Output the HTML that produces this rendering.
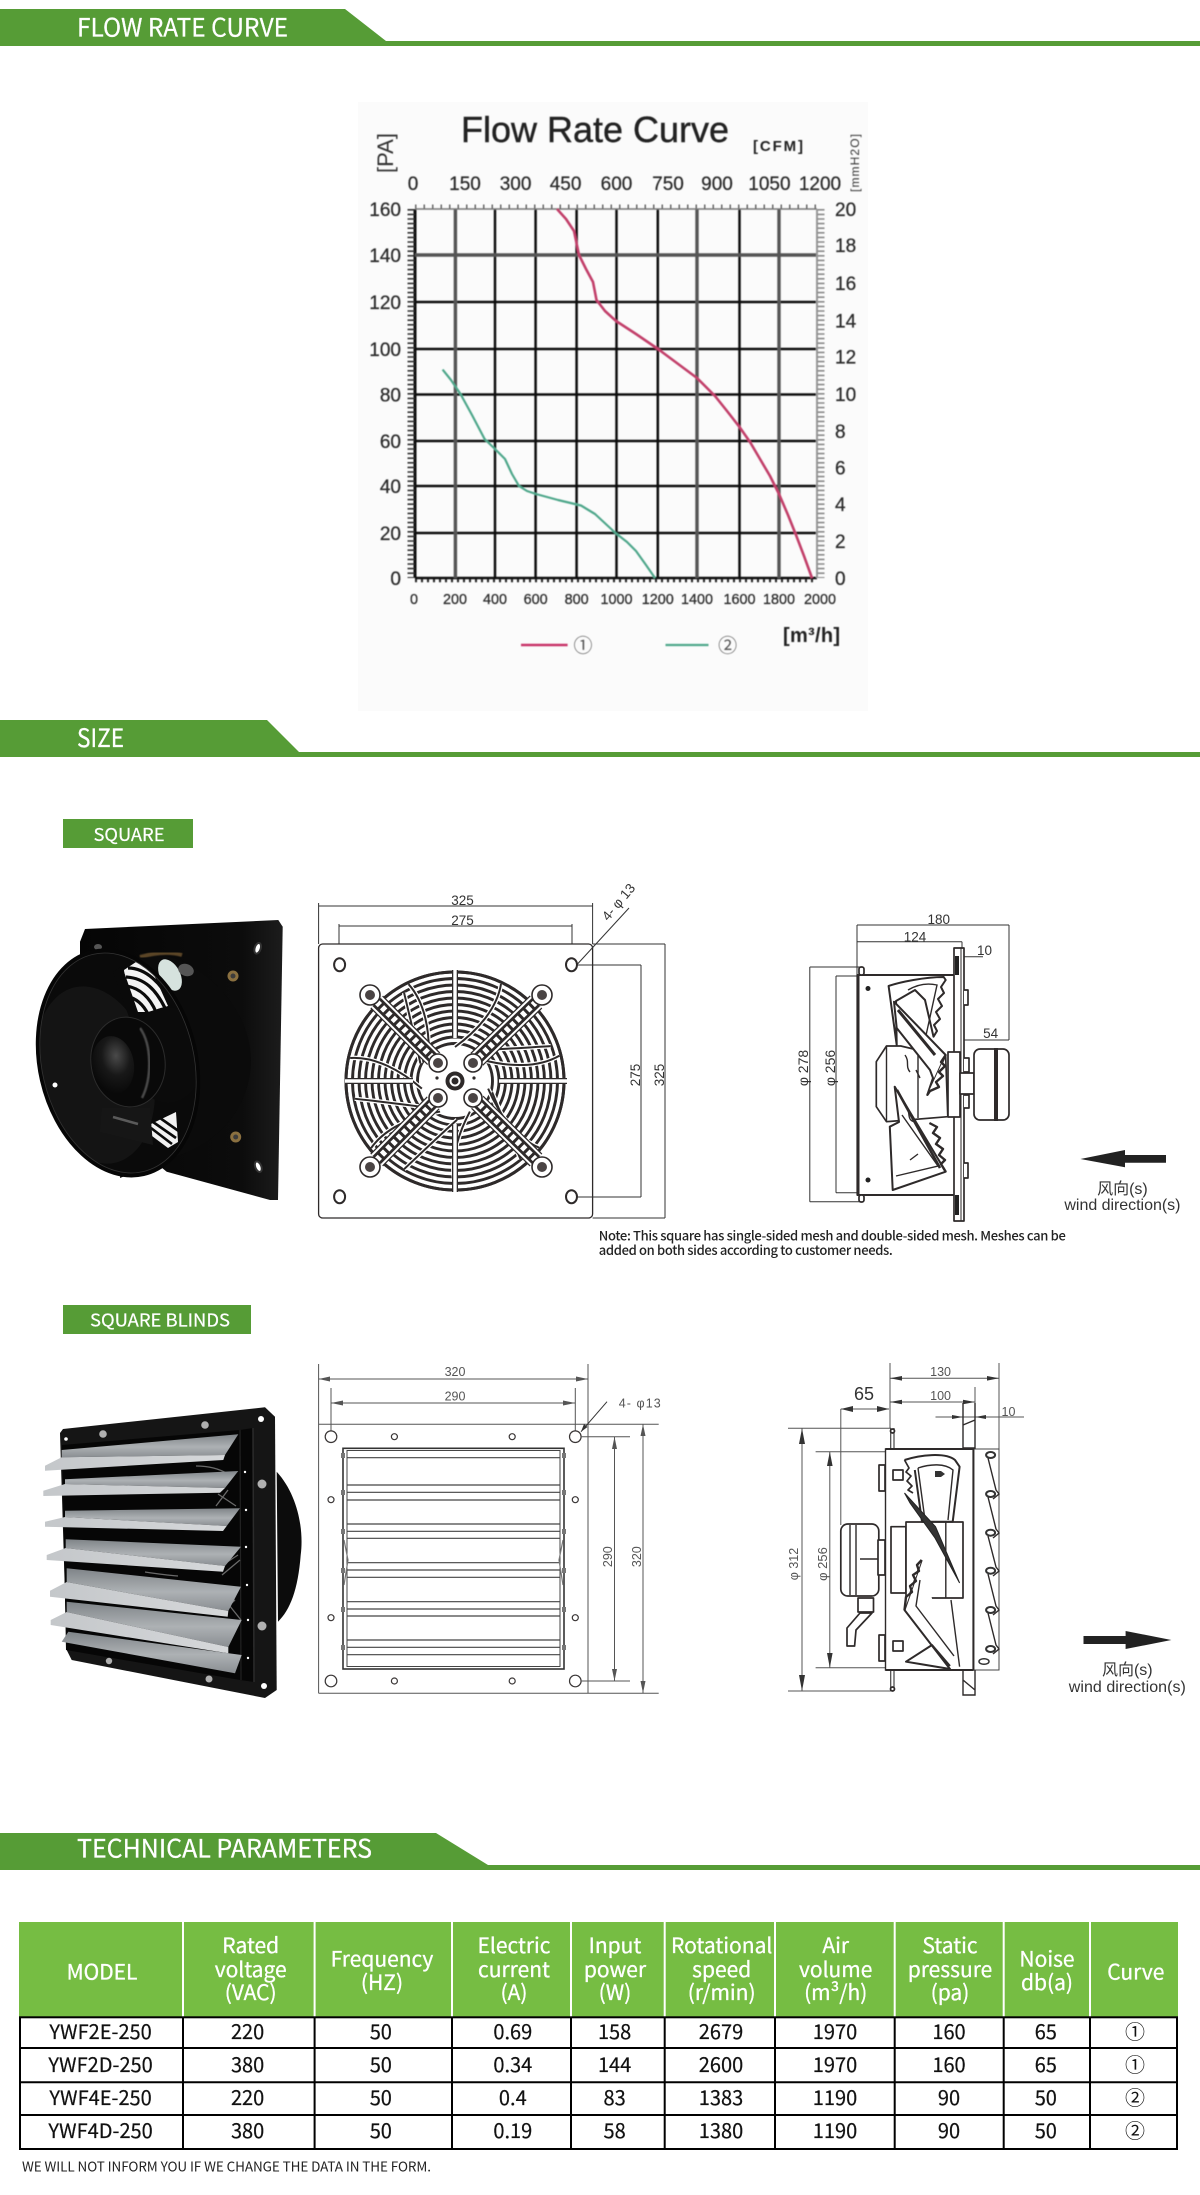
<!DOCTYPE html>
<html lang="en">
<head>
<meta charset="utf-8">
<title>Flow Rate Curve - Size - Technical Parameters</title>
<style>
html,body{margin:0;padding:0;background:#fff}
svg{display:block}
.cjk{font-family:"Liberation Sans","Noto Sans CJK SC",sans-serif}
.n{font-family:"Noto Sans CJK SC","Liberation Sans",sans-serif}
.ls{font-family:"Liberation Sans","Noto Sans CJK SC",sans-serif}
.banner{fill:#fff;stroke:#fff;stroke-width:.25;font-size:25px}
.lab{fill:#fff;stroke:#fff;stroke-width:.2;font-size:18px;text-anchor:middle}
.th{fill:#fff;stroke:#fff;stroke-width:.3;font-size:21px;text-anchor:middle}
.td{fill:#111;stroke:#111;stroke-width:.2;font-size:20px;text-anchor:middle}
.ch{fill:#2a2a2a;stroke:#2a2a2a;stroke-width:.25;font-size:19px}
.cb{fill:#2a2a2a;stroke:#2a2a2a;stroke-width:.25;font-size:14.4px;text-anchor:middle}
.dim{fill:#333;font-size:13.5px;text-anchor:middle}
.dim2{fill:#555;font-size:12.5px;text-anchor:middle}
.dl{stroke:#333;stroke-width:1;fill:none}
.dl2{stroke:#555;stroke-width:1;fill:none}
.dw{fill:#fff;stroke:#2e2a2a;stroke-width:1.7;stroke-linejoin:round}
.dn{fill:none;stroke:#2e2a2a;stroke-width:1.4}
.wind{fill:#333;font-size:16px;text-anchor:middle}
</style>
</head>
<body>
<svg xmlns="http://www.w3.org/2000/svg" width="1200" height="2195" viewBox="0 0 1200 2195">
<defs>
<filter id="bl" x="-5%" y="-5%" width="110%" height="110%"><feGaussianBlur stdDeviation="0.55"/></filter>
<filter id="bs" x="-20%" y="-20%" width="140%" height="140%"><feGaussianBlur stdDeviation="1.6"/></filter>
<linearGradient id="sl" x1="0" y1="0" x2="0" y2="1"><stop offset="0" stop-color="#7f8488"/><stop offset=".55" stop-color="#adb1b4"/><stop offset="1" stop-color="#8a8e92"/></linearGradient>
<linearGradient id="lip" x1="0" y1="0" x2="1" y2="0"><stop offset="0" stop-color="#c4c7ca"/><stop offset="1" stop-color="#d6d8da"/></linearGradient>
<radialGradient id="mot" cx=".6" cy=".35" r=".75"><stop offset="0" stop-color="#4a4a4a"/><stop offset=".45" stop-color="#181818"/><stop offset="1" stop-color="#050505"/></radialGradient>
<linearGradient id="pl" x1="0" y1="0" x2="1" y2="0"><stop offset="0" stop-color="#050505"/><stop offset=".8" stop-color="#0c0c0c"/><stop offset="1" stop-color="#1c1c1c"/></linearGradient>
<clipPath id="ri"><ellipse cx="118" cy="1063" rx="77" ry="113" transform="rotate(-13 118 1063)"/></clipPath>
<path id="blade" d="M0 -34C22 -50 42 -72 46 -97"/>
<path id="blade2" d="M8 -38C28 -48 46 -58 72 -72"/>
</defs>

<!-- BANNERS -->
<polygon points="0,9 345,9 386,41 1200,41 1200,46 0,46" fill="#569c36"/>
<text class="n banner" x="77" y="36.7" textLength="211" lengthAdjust="spacingAndGlyphs">FLOW RATE CURVE</text>
<polygon points="0,720 267,720 299,752 1200,752 1200,757 0,757" fill="#569c36"/>
<text class="n banner" x="77" y="747" textLength="47" lengthAdjust="spacingAndGlyphs">SIZE</text>
<polygon points="0,1833 436,1833 488,1865 1200,1865 1200,1870 0,1870" fill="#569c36"/>
<text class="n banner" x="77" y="1857.7" textLength="295" lengthAdjust="spacingAndGlyphs">TECHNICAL PARAMETERS</text>

<!-- CHART -->
<rect x="358" y="102" width="510" height="609" fill="#fbfbfb"/>
<g filter="url(#bl)">
<g stroke="#111" stroke-width="2.5" fill="none">
<path d="M535.6 209V578M495 209V578M576.6 209V578M616.5 209V578M657.8 209V578M739.5 209V578"/>
<path d="M415 209V578" stroke-width="3"/>
<path d="M415 302H817M415 349H817M415 441H817M415 486H817M415 533H817M415 394.5H817M415 578H817"/>
</g>
<g stroke="#555" stroke-width="3.4" fill="none">
<path d="M455.4 209V578M697 209V578M779 209V578"/>
<path d="M415 255H817"/>
</g>
<path d="M415 209H817" stroke="#777" stroke-width="1.5"/>
<path d="M817 209V578" stroke="#999" stroke-width="2"/>
<path d="M411 209V578" stroke="#333" stroke-width="7" stroke-dasharray="1.6 3"/>
<path d="M821 209V578" stroke="#888" stroke-width="7" stroke-dasharray="1.6 3"/>
<path d="M415 206.5H817" stroke="#666" stroke-width="4" stroke-dasharray="1.5 7"/>
<path d="M415 580.5H817" stroke="#222" stroke-width="3.5" stroke-dasharray="2 4"/>
<polyline points="557,209 566,219 574,231 579,255 586,269 593,282 596.5,300 605,311 615.5,320.6 636,334 658,349 697,378 715,396 727,411 739.5,427 750,442 760,459 770,476 779,494 788,515 796,535 804,556 812,578" fill="none" stroke="#c2416b" stroke-width="2.6" stroke-linejoin="round"/>
<polyline points="442.6,369.6 451,380 460.5,394 472,415 484.6,439 495,449 505,459 512,474 519,486 527,491 536,494 558,500 581,505.5 595,514 615.5,533 627,542 636,551 646,565 655,578" fill="none" stroke="#4fa78b" stroke-width="2.2" stroke-linejoin="round"/>

<text class="ls" x="461" y="142" font-size="36" fill="#222" stroke="#222" stroke-width=".4" textLength="268">Flow Rate Curve</text>
<text class="ls" x="0" y="0" font-size="22" fill="#333" text-anchor="middle" transform="translate(393,153) rotate(-90)">[PA]</text>
<text class="ls" x="753" y="151" font-size="15" font-weight="bold" fill="#222" textLength="50">[CFM]</text>
<text class="ls" x="0" y="0" font-size="12" fill="#333" text-anchor="middle" transform="translate(859,163) rotate(-90)" textLength="58">[mmH2O]</text>

<g class="ls ch" text-anchor="middle">
<text x="413" y="190">0</text><text x="465" y="190">150</text><text x="515.6" y="190">300</text><text x="565.6" y="190">450</text><text x="616.5" y="190">600</text><text x="668" y="190">750</text><text x="717" y="190">900</text><text x="769.4" y="190">1050</text><text x="820" y="190">1200</text>
</g>
<g class="ls ch" text-anchor="end">
<text x="401" y="216">160</text><text x="401" y="262">140</text><text x="401" y="309">120</text><text x="401" y="356">100</text><text x="401" y="401.5">80</text><text x="401" y="448">60</text><text x="401" y="493">40</text><text x="401" y="540">20</text><text x="401" y="585">0</text>
</g>
<g class="ls ch">
<text x="835" y="216">20</text><text x="835" y="252">18</text><text x="835" y="290">16</text><text x="835" y="327.6">14</text><text x="835" y="363.5">12</text><text x="835" y="401">10</text><text x="835" y="438">8</text><text x="835" y="474.6">6</text><text x="835" y="511">4</text><text x="835" y="548">2</text><text x="835" y="585">0</text>
</g>
<g class="ls cb">
<text x="414" y="604">0</text><text x="455" y="604">200</text><text x="495" y="604">400</text><text x="535.6" y="604">600</text><text x="576.6" y="604">800</text><text x="616.5" y="604">1000</text><text x="657.8" y="604">1200</text><text x="697" y="604">1400</text><text x="739.5" y="604">1600</text><text x="779" y="604">1800</text><text x="820" y="604">2000</text>
</g>
<text class="ls" x="783" y="642" font-size="20" font-weight="bold" fill="#222" textLength="57">[m³/h]</text>
<path d="M521 645H567.6" stroke="#c9366b" stroke-width="2.4"/>
<path d="M665.5 645H708.5" stroke="#4fa78b" stroke-width="2.2"/>
<text class="n" x="583" y="652" font-size="19" fill="#555" text-anchor="middle">①</text>
<text class="n" x="727.6" y="652" font-size="19" fill="#555" text-anchor="middle">②</text>
</g>

<!-- SQUARE -->
<rect x="63" y="819" width="130" height="29" fill="#569c36"/>
<text class="n lab" x="129" y="841" textLength="71" lengthAdjust="spacingAndGlyphs">SQUARE</text>

<!-- Fan photo -->
<g>
<polygon points="85,929 278.3,920 282.7,926.7 278,1200 270,1200 166.7,1171.7 80,1100 80,941.7" fill="url(#pl)"/>
<ellipse cx="257.7" cy="948.3" rx="3" ry="5.5" fill="#fff" stroke="#333" stroke-width="2" transform="rotate(18 257.7 948.3)"/>
<ellipse cx="258.3" cy="1166.7" rx="3" ry="5.5" fill="#fff" stroke="#333" stroke-width="2" transform="rotate(-22 258.3 1166.7)"/>
<ellipse cx="98" cy="947" rx="4" ry="3" fill="#555"/>
<circle cx="233" cy="976" r="5.5" fill="#8a7040"/><circle cx="233" cy="976" r="2.5" fill="#3c3c3c"/>
<circle cx="235.7" cy="1137" r="5.5" fill="#8a7040"/><circle cx="235.7" cy="1137" r="2.5" fill="#3c3c3c"/>
<path d="M140 953C190 950 250 1000 251 1060C251 1105 220 1145 170 1158L120 1178Z" fill="#0b0b0b"/>
<path d="M140 957Q165 950 182 955" stroke="#5a4528" stroke-width="4" fill="none" filter="url(#bl)"/>
<ellipse cx="170" cy="975" rx="10" ry="17" fill="#d6e2de" transform="rotate(-28 170 975)"/>
<ellipse cx="186" cy="970" rx="8" ry="6" fill="#555" transform="rotate(20 186 970)"/>
<ellipse cx="118" cy="1063" rx="79" ry="115" fill="#0a0a0a" transform="rotate(-13 118 1063)"/>
<g clip-path="url(#ri)">
<ellipse cx="95" cy="1075" rx="58" ry="90" fill="#141414" transform="rotate(-13 95 1075)"/>
<polygon points="124,970 136,962 150,966 168,1006 148,1012 134,1012 126,990" fill="#f4f4f4"/>
<g stroke="#0a0a0a" stroke-width="3.2" fill="none">
<path d="M128 968C146 968 162 984 170 1002"/><path d="M126 977C145 978 156 990 165 1008"/><path d="M126 986C140 988 150 998 156 1012"/><path d="M126 996C136 998 143 1004 148 1014"/>
</g>
<polygon points="113,972 122,966 138,1012 130,1020" fill="#0a0a0a"/>
<ellipse cx="168" cy="1055" rx="36" ry="48" fill="#0b0b0b"/>
<polygon points="151,1124 176,1112 178,1142 168,1148 152,1136" fill="#f2f2f2"/>
<g stroke="#0a0a0a" stroke-width="2.6" fill="none"><path d="M151 1128L172 1144M153 1122L176 1138M160 1118L180 1132"/></g>
<polygon points="101.7,1108 150,1108 153,1145 100,1132" fill="#161616"/>
<path d="M113 1117L138 1124" stroke="#5a5a5a" stroke-width="2.5"/>
</g>
<ellipse cx="128" cy="1062" rx="37" ry="45" fill="#090909" stroke="#2c2c2c" stroke-width="1" transform="rotate(-8 128 1062)"/>
<path d="M140 1028C152 1045 152 1078 142 1098" stroke="#484848" stroke-width="2.5" fill="none" filter="url(#bl)"/>
<ellipse cx="113" cy="1065" rx="21" ry="29" fill="url(#mot)" transform="rotate(-8 113 1065)"/>
<ellipse cx="118" cy="1063" rx="78" ry="114" fill="none" stroke="#060606" stroke-width="4" transform="rotate(-13 118 1063)"/>
<ellipse cx="118" cy="1063" rx="76" ry="111.5" fill="none" stroke="#333" stroke-width=".8" transform="rotate(-13 118 1063)"/>
<circle cx="55" cy="1085" r="2.5" fill="#fff"/>
</g>

<!-- Front drawing -->
<g>
<path d="M318.6 906H592.6M339 926H572" class="dl"/>
<path d="M318.6 903V944M592.6 903V944M339 924V958M572 924V958" class="dl"/>
<rect x="318.6" y="944" width="274" height="274" rx="4" fill="#fff" stroke="#2e2a2a" stroke-width="1.3"/>
<path d="M592.6 944H665M592.6 1218H665M665 944V1218M641 965V1197M578 965H641M578 1197H641" class="dl"/>
<path d="M572 970L629 908" class="dl"/>
<g fill="#fff" stroke="#2e2a2a" stroke-width="2">
<ellipse cx="339.6" cy="964.7" rx="5.5" ry="6.5"/><ellipse cx="571.5" cy="964.7" rx="5.5" ry="6.5"/>
<ellipse cx="339.6" cy="1196.7" rx="5.5" ry="6.5"/><ellipse cx="571.5" cy="1196.7" rx="5.5" ry="6.5"/>
</g>
<g fill="none" stroke="#2e2a2a" stroke-width="2.9">
<circle cx="455" cy="1081" r="109" stroke-width="3"/>
<circle cx="455" cy="1081" r="102.5"/><circle cx="455" cy="1081" r="96"/><circle cx="455" cy="1081" r="89.5"/><circle cx="455" cy="1081" r="83"/><circle cx="455" cy="1081" r="76.5"/><circle cx="455" cy="1081" r="70"/><circle cx="455" cy="1081" r="63.5"/><circle cx="455" cy="1081" r="57"/><circle cx="455" cy="1081" r="50.5"/><circle cx="455" cy="1081" r="44"/><circle cx="455" cy="1081" r="37.5"/>
</g>
<g transform="translate(455 1081)" fill="none" stroke="#fff" stroke-width="4.5">
<use href="#blade"/><use href="#blade" transform="rotate(51)"/><use href="#blade" transform="rotate(103)"/><use href="#blade" transform="rotate(154)"/><use href="#blade" transform="rotate(206)"/><use href="#blade" transform="rotate(257)"/><use href="#blade" transform="rotate(309)"/>
<use href="#blade2" transform="rotate(25)"/><use href="#blade2" transform="rotate(95)"/><use href="#blade2" transform="rotate(165)"/><use href="#blade2" transform="rotate(215)"/><use href="#blade2" transform="rotate(285)"/>
</g>
<g transform="translate(455 1081)" fill="none" stroke="#2e2a2a" stroke-width="2">
<use href="#blade"/><use href="#blade" transform="rotate(51)"/><use href="#blade" transform="rotate(103)"/><use href="#blade" transform="rotate(154)"/><use href="#blade" transform="rotate(206)"/><use href="#blade" transform="rotate(257)"/><use href="#blade" transform="rotate(309)"/>
<use href="#blade2" transform="rotate(25)"/><use href="#blade2" transform="rotate(95)"/><use href="#blade2" transform="rotate(165)"/><use href="#blade2" transform="rotate(215)"/><use href="#blade2" transform="rotate(285)"/>
</g>
<circle cx="455" cy="1081" r="109" fill="none" stroke="#2e2a2a" stroke-width="3"/>
<!-- Straight spokes -->
<g stroke="#2e2a2a" stroke-width="6" fill="none"><path d="M455 970V1038M455 1124V1192M345 1081H413M499 1081H567"/></g>
<g stroke="#fff" stroke-width="3.4" fill="none"><path d="M455 970V1038M455 1124V1192M345 1081H413M499 1081H567"/></g>
<!-- Diagonal ladder spokes -->
<g fill="none">
<path d="M376.7 1002L438 1063M536 1002L473 1063M376.7 1160L438 1098M536 1160L473 1098" stroke="#2e2a2a" stroke-width="18"/>
<path d="M376.7 1002L438 1063M536 1002L473 1063M376.7 1160L438 1098M536 1160L473 1098" stroke="#fff" stroke-width="15.5"/>
<path d="M376.7 1002L438 1063M536 1002L473 1063M376.7 1160L438 1098M536 1160L473 1098" stroke="#2e2a2a" stroke-width="11.5"/>
<path d="M376.7 1002L438 1063M536 1002L473 1063M376.7 1160L438 1098M536 1160L473 1098" stroke="#fff" stroke-width="6" stroke-dasharray="4.5 3"/>
</g>
<circle cx="455" cy="1081" r="32" fill="#fff"/>
<g fill="#fff" stroke="#2e2a2a" stroke-width="1.6">
<circle cx="370" cy="995" r="10"/><circle cx="542" cy="995" r="10"/><circle cx="370" cy="1167" r="10"/><circle cx="542" cy="1167" r="10"/>
<circle cx="438" cy="1063" r="9"/><circle cx="473" cy="1063" r="9"/><circle cx="438" cy="1098" r="9"/><circle cx="473" cy="1098" r="9"/>
</g>
<g fill="#4a4444">
<circle cx="370" cy="995" r="5"/><circle cx="542" cy="995" r="5"/><circle cx="370" cy="1167" r="5"/><circle cx="542" cy="1167" r="5"/>
<circle cx="438" cy="1063" r="5"/><circle cx="473" cy="1063" r="5"/><circle cx="438" cy="1098" r="5"/><circle cx="473" cy="1098" r="5"/>
</g>
<circle cx="455" cy="1081" r="9.5" fill="#2e2a2a"/><circle cx="455" cy="1081" r="5.5" fill="#fff"/><circle cx="455" cy="1081" r="3.5" fill="#2e2a2a"/>
<circle cx="437" cy="1078" r="1.6" fill="#2e2a2a"/><circle cx="474" cy="1078" r="1.6" fill="#2e2a2a"/>
<g class="ls dim">
<text x="462.5" y="905">325</text><text x="462.5" y="925">275</text>
<text transform="translate(640 1075) rotate(-90)">275</text>
<text transform="translate(664 1075) rotate(-90)">325</text>
<text transform="translate(622 905) rotate(-50)">4-  φ 13</text>
</g>
</g>

<!-- Side drawing square -->
<g>
<path d="M857 925H1009M857 941.7H962M954 956.7H983M964 1040H1009M857 925V975M962 941.7V950M1009 925V1040" class="dl"/>
<path d="M809.8 967V1201.7M836 976V1192.7M809.8 967H860M809.8 1201.7H860M836 976H858M836 1192.7H858" class="dl"/>
<rect x="857" y="975" width="101" height="220" fill="#fff" stroke="#2e2a2a" stroke-width="1.2"/>
<path d="M858.5 975V1195" stroke="#2e2a2a" stroke-width="2"/>
<path d="M857 975H954M857 1195H954" stroke="#2e2a2a" stroke-width="2"/>
<rect x="859" y="967" width="5" height="8" rx="2" class="dw"/><rect x="859" y="1195" width="5" height="7" rx="2" class="dw"/>
<circle cx="868" cy="988.5" r="2.5" fill="#222"/><circle cx="868" cy="1180" r="2.5" fill="#222"/>
<polygon points="954,948 964,948 964,1221 954,1221" class="dw"/>
<path d="M957 956V975M957 1195V1215" stroke="#222" stroke-width="4"/>
<path d="M961 948V1221" stroke="#2e2a2a" stroke-width="1"/>
<path d="M964 990H968V1005H964M964 1163H968V1178H964M964 1058H969V1072H964M964 1095H969V1108H964" class="dw"/>
<polygon points="886.5,1046 900.8,1046 945.7,1056.7 947.8,1116.7 886.5,1121.7 876.3,1106.7 876.3,1061.7" class="dw"/>
<path d="M886.5 1046V1121.7M918 1052V1118" class="dn"/>
<rect x="948" y="1052" width="12" height="65" class="dw"/>
<rect x="960" y="1073" width="14" height="21" class="dw"/>
<!-- top blade -->
<path d="M888.6 986C900 982 925 977 943.7 977L945.7 980L941 987L944 993L938 999L942 1006L936 1012L940 1019L934 1025L937 1031L933.5 1036.7L925 1000L915 990L896 1001L896.7 1045Z" class="dw" style="stroke-width:2"/>
<path d="M908 990C918 984 928 983 937 985L925 1040" class="dn"/>
<path d="M894 1001.7L945.7 1055L927.3 1095L933 1078L930 1070L896.7 1028Z" class="dw" style="stroke-width:2"/>
<path d="M898 1010L935 1055" stroke="#2e2a2a" stroke-width="3"/>
<path d="M945.7 1055L941 1062L945 1066L939 1072L943 1076L936 1082L939 1087L930 1091L927.3 1095" class="dw" style="stroke-width:2.4"/>
<path d="M905 1055C910 1062 905 1066 910 1072M916 1070L920 1078" class="dn"/>
<!-- bottom blade -->
<path d="M894.7 1086.7L945.7 1171.7L892.7 1190L889.8 1126.7L899 1122Z" class="dw" style="stroke-width:2"/>
<path d="M929.4 1123L937 1127L933 1133L940 1138L936 1144L943 1149L939 1155L945 1160L941 1164L945.7 1171.7" class="dw" style="stroke-width:2.4"/>
<path d="M896 1176L938 1166L902 1115M910 1160L918 1154" class="dn"/>
<path d="M897 1090L940 1168" stroke="#2e2a2a" stroke-width="2.6"/>
<path d="M905 1105C912 1110 905 1120 915 1122" class="dn"/>
<!-- motor -->
<rect x="974" y="1049" width="35" height="71" rx="6" class="dw"/>
<path d="M996 1048V1121" stroke="#2e2a2a" stroke-width="4"/>
<g class="ls dim">
<text x="938.8" y="924">180</text><text x="915" y="941.5">124</text><text x="984.5" y="955">10</text><text x="990.6" y="1038">54</text>
<text transform="translate(808 1068) rotate(-90)" style="font-size:14px">φ 278</text>
<text transform="translate(835 1068) rotate(-90)" style="font-size:14px">φ 256</text>
</g>
<polygon points="1080.4,1159 1125,1150 1125,1155 1166,1155 1166,1162.7 1125,1162.7 1125,1167.3" fill="#222"/>
<text class="cjk wind" x="1122.4" y="1194">风向(s)</text>
<text class="cjk wind" x="1122.4" y="1210" textLength="116">wind direction(s)</text>
<text class="n" x="598.8" y="1240.5" font-size="13" font-weight="500" fill="#222" textLength="467">Note: This square has single-sided mesh and double-sided mesh. Meshes can be</text>
<text class="n" x="598.8" y="1255" font-size="13" font-weight="500" fill="#222" textLength="294">added on both sides according to customer needs.</text>
</g>

<!-- SQUARE BLINDS -->
<rect x="63" y="1305" width="188" height="29" fill="#569c36"/>
<text class="n lab" x="160" y="1326.5" textLength="140" lengthAdjust="spacingAndGlyphs">SQUARE BLINDS</text>

<!-- Blinds photo -->
<g>
<path d="M276.7 1471.7C298 1495 304 1530 300.7 1555C298 1590 290 1610 278 1621.7Z" fill="#0c0c0c"/>
<polygon points="60,1433 63,1429 265,1407.3 275,1416.7 276.7,1690 265,1698 71.7,1660 66.7,1650" fill="#151515"/>
<polygon points="62,1445 240,1430 253,1428 254,1682 240,1680 66,1650" fill="#060606"/>
<path d="M253 1428L254 1682" stroke="#2b2b2b" stroke-width="1.5"/>
<path d="M240 1430L241 1680" stroke="#222" stroke-width="1.2"/>
<g fill="none" stroke="#6a6a6a" stroke-width="1.3">
<path d="M196 1466Q215 1466 228 1474"/>
<path d="M218 1494L236 1506M228 1490L216 1506"/>
<path d="M145 1572Q165 1575 178 1576M215 1570L238 1555M222 1575L240 1560"/>
<path d="M225 1600L241 1620M235 1600L222 1612"/>
</g>
<g fill="#b0b0b0">
<circle cx="103" cy="1434" r="3.8"/><circle cx="205" cy="1425" r="3.8"/><circle cx="262" cy="1484" r="4.5"/><circle cx="262" cy="1626" r="4.5"/><circle cx="109" cy="1661" r="3.2"/><circle cx="209" cy="1679" r="3.5"/>
</g>
<g fill="#fff">
<circle cx="261" cy="1419" r="3"/><circle cx="66" cy="1439" r="1.8"/><circle cx="264" cy="1686" r="3"/>
<circle cx="245" cy="1472" r="1.2"/><circle cx="246" cy="1510" r="1.2"/><circle cx="246" cy="1547" r="1.2"/><circle cx="247" cy="1585" r="1.2"/><circle cx="248" cy="1620" r="1.2"/><circle cx="248" cy="1658" r="1.2"/>
</g>
<polygon points="61.7,1450 238.3,1434.3 225,1455 61.7,1457.3" fill="url(#sl)"/>
<polygon points="45,1465.7 61.7,1457.3 225,1455 223.3,1460 45,1470.7" fill="url(#lip)"/>
<polygon points="65,1479.3 238.3,1471 225,1488 65,1484" fill="url(#sl)"/>
<polygon points="43.3,1490.7 65,1484 225,1488 220,1492.7 43.3,1496" fill="url(#lip)"/>
<polygon points="65,1510.7 240,1508.3 226.7,1526 65,1517" fill="url(#sl)"/>
<polygon points="45,1521.7 65,1517 226.7,1526 223,1531 45,1526.7" fill="url(#lip)"/>
<polygon points="65.7,1539.3 241,1546.7 225,1566 65.7,1548" fill="url(#sl)"/>
<polygon points="46.7,1555 65.7,1548 225,1566 223,1571.7 46.7,1560" fill="url(#lip)"/>
<polygon points="66.7,1568.3 241,1586.7 228.3,1611 66.7,1582" fill="url(#sl)"/>
<polygon points="50,1590.7 66.7,1582 228.3,1611 227.7,1616.7 50,1596.7" fill="url(#lip)"/>
<polygon points="66.7,1601.7 241.7,1620 228.3,1647 66.7,1612" fill="url(#sl)"/>
<polygon points="50.7,1620 66.7,1612 228.3,1647 228.3,1653.3 50.7,1625" fill="url(#lip)"/>
<polygon points="68.3,1631.7 241.7,1655 235,1673.3 61.7,1641.7" fill="url(#sl)"/>
</g>

<!-- Blinds front drawing -->
<g>
<path d="M318.6 1364V1693.3M588 1364V1693.3M331 1388V1431M575.3 1388V1431" class="dl2"/>
<path d="M318.6 1424.3H658.7M318.6 1693.3H658.7" class="dl2"/>
<path d="M318.6 1379H588M331 1403H575.3" class="dl2"/>
<path d="M318.6 1379L330 1376.5V1381.5ZM588 1379L576 1376.5V1381.5ZM331 1403L343 1400.5V1405.5ZM575.3 1403L563 1400.5V1405.5Z" fill="#555"/>
<path d="M581 1431.7L607 1401.7" class="dl"/>
<path d="M581 1431.7L584 1424L587.5 1427Z" fill="#333"/>
<g fill="#fff" stroke="#3a3636" stroke-width="1.2">
<circle cx="331" cy="1436.7" r="5.8"/><circle cx="575.3" cy="1436.7" r="5.8"/><circle cx="331" cy="1681" r="5.8"/><circle cx="575.3" cy="1681" r="5.8"/>
<circle cx="394.4" cy="1436.7" r="3"/><circle cx="512.2" cy="1436.7" r="3"/><circle cx="394.4" cy="1681" r="3"/><circle cx="512.2" cy="1681" r="3"/>
<circle cx="331" cy="1499.7" r="3"/><circle cx="575.3" cy="1499.7" r="3"/><circle cx="331" cy="1617.7" r="3"/><circle cx="575.3" cy="1617.7" r="3"/>
</g>
<path d="M581 1436.7H630M581 1681H630M614.5 1436.7V1681M643 1424.3V1693.3" class="dl2"/>
<path d="M614.5 1436.7L612 1449H617ZM614.5 1681L612 1669H617ZM643 1424.3L640.5 1436H645.5ZM643 1693.3L640.5 1681H645.5Z" fill="#555"/>
<rect x="343" y="1448.3" width="221" height="220.7" fill="#fff" stroke="#333" stroke-width="1.6"/>
<rect x="347" y="1450.5" width="213" height="216" fill="none" stroke="#444" stroke-width="1"/>
<g stroke="#444" stroke-width="1.2" fill="none">
<path d="M347 1457.7H560M347 1485H560M347 1492.3H560M347 1500H560M347 1524H560M347 1531.3H560M347 1538.3H560M347 1562.7H560M347 1570H560M347 1577.3H560M347 1601.7H560M347 1609H560M347 1616H560M347 1640H560M347 1647.3H560M347 1654.7H560"/>
<path d="M344 1540L348 1560L344 1585M563 1540L559 1560L563 1585" stroke="#777"/>
</g>
<g fill="#777">
<rect x="341" y="1453" width="4" height="5"/><rect x="562" y="1453" width="4" height="5"/><rect x="341" y="1490" width="4" height="5"/><rect x="562" y="1490" width="4" height="5"/><rect x="341" y="1529" width="4" height="5"/><rect x="562" y="1529" width="4" height="5"/><rect x="341" y="1568" width="4" height="5"/><rect x="562" y="1568" width="4" height="5"/><rect x="341" y="1607" width="4" height="5"/><rect x="562" y="1607" width="4" height="5"/><rect x="341" y="1645" width="4" height="5"/><rect x="562" y="1645" width="4" height="5"/>
</g>
<g class="ls dim2">
<text x="455" y="1376">320</text><text x="455" y="1400.5">290</text>
<text transform="translate(612 1556.7) rotate(-90)">290</text>
<text transform="translate(641 1556.7) rotate(-90)">320</text>
<text x="618.7" y="1407.5" style="text-anchor:start" textLength="42">4-  φ13</text>
</g>
</g>

<!-- Blinds side drawing -->
<g>
<path d="M890 1363V1428M999 1363V1449M975 1387V1403" class="dl2"/>
<path d="M890 1378.3H999M890 1402H975M840.8 1409H889M935.5 1417H1024" class="dl2"/>
<path d="M890 1378.3L902 1376V1380.6ZM999 1378.3L987 1376V1380.6ZM890 1402L902 1399.7V1404.3ZM975 1402L963 1399.7V1404.3ZM840.8 1409L853 1406V1412ZM889 1409L877 1406V1412ZM963 1417L952 1415V1419ZM975 1417L986 1415V1419Z" fill="#333"/>
<path d="M788 1428.3H891M788 1691H891M815.6 1451.7H885.5M815.6 1667.7H885.5M885.5 1451.7H959.6M802 1428.3V1691M829.8 1451.7V1667.7M840.8 1409V1525" class="dl2"/>
<path d="M802 1428.3L799 1444H805ZM802 1691L799 1675H805ZM829.8 1451.7L827 1466H832.6ZM829.8 1667.7L827 1653H832.6Z" fill="#333"/>
<rect x="973.4" y="1449" width="25.6" height="221" fill="#fff" stroke="#444" stroke-width="1"/>
<path d="M890.7 1428V1691M894 1428V1691" stroke="#444" stroke-width="1.2"/>
<circle cx="892.5" cy="1431" r="2" class="dw"/><circle cx="892.5" cy="1689" r="2" class="dw"/>
<rect x="885.5" y="1449" width="88" height="221" fill="#fff" stroke="#2e2a2a" stroke-width="1.4"/>
<path d="M885.5 1449H973.4M885.5 1670H973.4M973.4 1449V1670" stroke="#2e2a2a" stroke-width="2"/>
<path d="M963 1403V1448H975V1403M963 1425L975 1420M963 1670V1695H975V1670M963 1680L975 1690" class="dn"/>
<rect x="879" y="1465" width="6" height="26" class="dw"/><rect x="879" y="1635" width="6" height="26" class="dw"/>
<rect x="893" y="1470" width="10" height="10" class="dw"/><rect x="893" y="1641" width="10" height="10" class="dw"/>
<g fill="#fff" stroke="#333" stroke-width="2">
<ellipse cx="990.6" cy="1455" rx="4.5" ry="3"/><ellipse cx="990.6" cy="1494" rx="4.5" ry="3"/><ellipse cx="990.6" cy="1532.7" rx="4.5" ry="3"/><ellipse cx="990.6" cy="1570.7" rx="4.5" ry="3"/><ellipse cx="990.6" cy="1610" rx="4.5" ry="3"/><ellipse cx="990.6" cy="1649" rx="4.5" ry="3"/>
</g>
<path d="M988 1458L996 1490L999 1494L993 1499M988 1497L996 1529L999 1533L993 1538M988 1536L996 1567L999 1571L993 1576M988 1574L996 1606L999 1610L993 1615M988 1613L996 1645L999 1649L993 1654" class="dn"/>
<ellipse cx="984" cy="1661.5" rx="5" ry="2.8" fill="none" stroke="#333" stroke-width="1.5"/>
<!-- hub -->
<rect x="891" y="1526.7" width="15" height="66.3" class="dw"/>
<polygon points="906,1522 963,1522 963,1598 906,1598" class="dw"/>
<path d="M945.8 1522V1598" class="dn"/>
<!-- blades -->
<path d="M904.5 1460C920 1455 945 1452 955 1460L959.6 1466.7L952.7 1521.7H922L914.8 1470" class="dw" style="stroke-width:2"/>
<path d="M918 1468C930 1464 945 1463 953 1470L948 1520M918 1468L925 1520" class="dn"/>
<polygon points="935,1471 941,1471 945,1474 941,1477 935,1477" fill="#333"/>
<path d="M904.5 1460L909 1468L906 1472L911 1476L907 1481L912 1486L908 1490L913 1493" class="dw"/>
<path d="M904.5 1493L935.5 1526.7L959.6 1583L935 1538L910 1503Z" fill="#333" stroke="#222" stroke-width="1"/>
<path d="M921.7 1560L904.5 1610L950 1669L920 1664L906 1661.7L932 1645L950 1666" class="dw" style="stroke-width:2"/>
<path d="M921.7 1560L917 1565L919 1571L913 1575L916 1581L910 1586L912 1592L906 1597L904.5 1610" class="dw" style="stroke-width:2.4"/>
<path d="M920 1580L916 1606L954 1656M951 1600L959.6 1666.7" class="dn"/>
<!-- motor -->
<rect x="840.8" y="1524" width="38" height="72" rx="7" class="dw"/>
<path d="M850 1525V1595M856 1525V1595M860 1559H878" class="dn"/>
<rect x="878" y="1540" width="7" height="35" class="dw"/>
<rect x="858" y="1598" width="15.5" height="14" class="dw"/>
<polygon points="872,1613 856,1630 854.6,1646 847,1646 847,1628 860,1613" class="dw"/>
<g class="ls dim2">
<text x="940.6" y="1376">130</text><text x="940.6" y="1400">100</text><text x="1008.5" y="1416">10</text>
<text x="864" y="1400" style="font-size:18px;fill:#333">65</text>
<text transform="translate(798 1564) rotate(-90)">φ 312</text>
<text transform="translate(827 1564) rotate(-90)" style="font-size:13px">φ 256</text>
</g>
<polygon points="1083.5,1636 1125.6,1636 1125.6,1631 1171.4,1640 1125.6,1649 1125.6,1644 1083.5,1644" fill="#222"/>
<text class="cjk wind" x="1127.3" y="1675">风向(s)</text>
<text class="cjk wind" x="1127.3" y="1692" textLength="117">wind direction(s)</text>
</g>

<!-- TABLE -->
<rect x="19" y="1922" width="1159" height="95" fill="#76bd43"/>
<g stroke="#fff" stroke-width="2"><path d="M183 1922V2017M314.6 1922V2017M452 1922V2017M571 1922V2017M664.7 1922V2017M775 1922V2017M894.7 1922V2017M1003.7 1922V2017M1090 1922V2017"/></g>
<g class="n th">
<text x="102" y="1979.3">MODEL</text>
<text x="250.7" y="1953">Rated</text><text x="250.7" y="1977">voltage</text><text x="250.7" y="2000">(VAC)</text>
<text x="382" y="1966.7">Frequency</text><text x="382" y="1990">(HZ)</text>
<text x="514" y="1953">Electric</text><text x="514" y="1977">current</text><text x="514" y="2000">(A)</text>
<text x="615" y="1953">Input</text><text x="615" y="1977">power</text><text x="615" y="2000">(W)</text>
<text x="721.7" y="1953">Rotational</text><text x="721.7" y="1977">speed</text><text x="721.7" y="2000">(r/min)</text>
<text x="835.7" y="1953">Air</text><text x="835.7" y="1977">volume</text><text x="835.7" y="2000">(m³/h)</text>
<text x="950" y="1953">Static</text><text x="950" y="1977">pressure</text><text x="950" y="2000">(pa)</text>
<text x="1047" y="1966.7">Noise</text><text x="1047" y="1990">db(a)</text>
<text x="1135.8" y="1979.3">Curve</text>
</g>
<g stroke="#000" stroke-width="2" fill="none">
<rect x="20" y="2017.3" width="1157" height="131.7"/>
<path d="M20 2048H1177M20 2082.3H1177M20 2115H1177"/>
<path d="M183 2017V2149M314.6 2017V2149M452 2017V2149M571 2017V2149M664.7 2017V2149M775 2017V2149M894.7 2017V2149M1003.7 2017V2149M1090 2017V2149"/>
</g>
<g class="n td">
<text x="100.6" y="2039">YWF2E-250</text><text x="247.6" y="2039">220</text><text x="380.8" y="2039">50</text><text x="512.8" y="2039">0.69</text><text x="614.6" y="2039">158</text><text x="721" y="2039">2679</text><text x="835" y="2039">1970</text><text x="949" y="2039">160</text><text x="1045.8" y="2039">65</text><text x="1135" y="2039" style="stroke-width:0">①</text>
<text x="100.6" y="2072">YWF2D-250</text><text x="247.6" y="2072">380</text><text x="380.8" y="2072">50</text><text x="512.8" y="2072">0.34</text><text x="614.6" y="2072">144</text><text x="721" y="2072">2600</text><text x="835" y="2072">1970</text><text x="949" y="2072">160</text><text x="1045.8" y="2072">65</text><text x="1135" y="2072" style="stroke-width:0">①</text>
<text x="100.6" y="2105">YWF4E-250</text><text x="247.6" y="2105">220</text><text x="380.8" y="2105">50</text><text x="512.8" y="2105">0.4</text><text x="614.6" y="2105">83</text><text x="721" y="2105">1383</text><text x="835" y="2105">1190</text><text x="949" y="2105">90</text><text x="1045.8" y="2105">50</text><text x="1135" y="2105" style="stroke-width:0">②</text>
<text x="100.6" y="2138">YWF4D-250</text><text x="247.6" y="2138">380</text><text x="380.8" y="2138">50</text><text x="512.8" y="2138">0.19</text><text x="614.6" y="2138">58</text><text x="721" y="2138">1380</text><text x="835" y="2138">1190</text><text x="949" y="2138">90</text><text x="1045.8" y="2138">50</text><text x="1135" y="2138" style="stroke-width:0">②</text>
</g>
<text class="n" x="22" y="2171.5" font-size="13.5" fill="#222" textLength="409">WE WILL NOT INFORM YOU IF WE CHANGE THE DATA IN THE FORM.</text>
</svg>
</body>
</html>
